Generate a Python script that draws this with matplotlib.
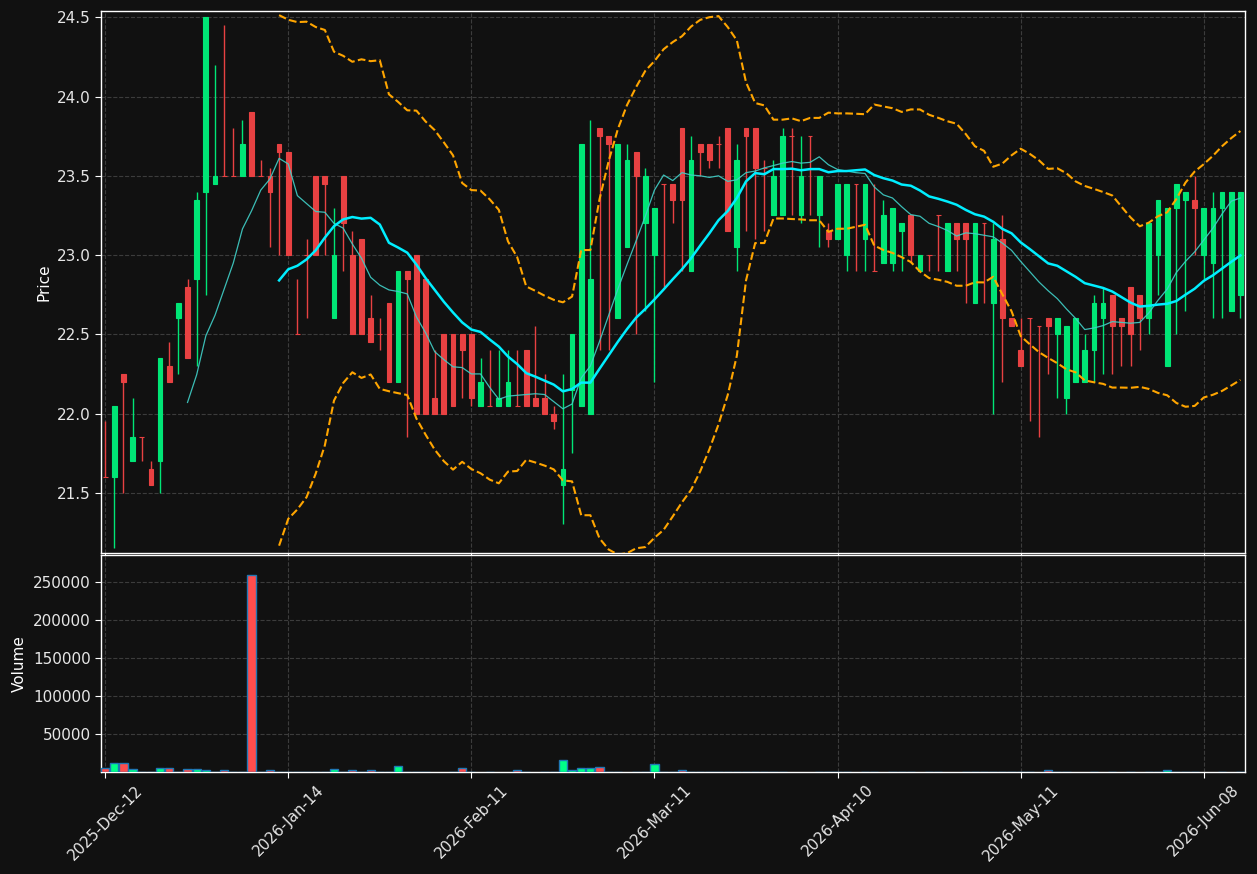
import numpy as np
import pandas as pd
import matplotlib
matplotlib.use("Agg")
import matplotlib.pyplot as plt

opens = [21.60, 21.60, 22.25, 21.70, 21.85, 21.65, 21.70, 22.30, 22.60, 22.80,
         22.85, 23.40, 23.45, 23.50, 23.50, 23.50, 23.90, 23.50, 23.50, 23.70,
         23.65, 22.50, 23.00, 23.50, 23.50, 22.60, 23.50, 23.00, 23.10, 22.60,
         22.50, 22.70, 22.20, 22.90, 23.00, 22.85, 22.10, 22.50, 22.50, 22.50,
         22.50, 22.05, 22.05, 22.05, 22.05, 22.05, 22.40, 22.10, 22.10, 22.00,
         21.55, 22.15, 22.05, 22.00, 23.80, 23.75, 22.60, 23.05, 23.65, 23.20,
         23.00, 23.45, 23.45, 23.80, 22.90, 23.70, 23.70, 23.70, 23.80, 23.05,
         23.80, 23.80, 23.55, 23.25, 23.25, 23.75, 23.25, 23.75, 23.25, 23.15,
         23.10, 23.00, 23.45, 23.10, 22.90, 22.95, 22.95, 23.15, 23.25, 22.90,
         23.00, 23.25, 22.90, 23.20, 23.20, 22.70, 23.20, 22.70, 23.10, 22.60,
         22.40, 22.60, 22.55, 22.60, 22.50, 22.10, 22.20, 22.20, 22.40, 22.60,
         22.75, 22.60, 22.80, 22.75, 22.60, 23.00, 22.30, 23.30, 23.35, 23.35,
         23.00, 22.95, 23.30, 22.65, 22.75]
highs = [21.95, 22.05, 22.25, 22.10, 21.85, 21.70, 22.35, 22.45, 22.70, 22.85,
         23.40, 24.50, 24.20, 24.45, 23.80, 23.85, 23.90, 23.60, 23.55, 23.70,
         23.65, 22.85, 23.10, 23.50, 23.50, 23.30, 23.50, 23.15, 23.10, 22.75,
         22.60, 22.70, 22.90, 22.90, 23.00, 22.85, 22.40, 22.50, 22.50, 22.50,
         22.50, 22.35, 22.40, 22.40, 22.40, 22.40, 22.40, 22.55, 22.25, 22.05,
         22.25, 22.50, 23.70, 23.85, 23.80, 23.75, 23.70, 23.70, 23.65, 23.55,
         23.30, 23.45, 23.45, 23.80, 23.75, 23.70, 23.70, 23.75, 23.80, 23.70,
         23.80, 23.80, 23.60, 23.60, 23.80, 23.80, 23.75, 23.75, 23.50, 23.20,
         23.45, 23.45, 23.45, 23.45, 23.45, 23.35, 23.30, 23.20, 23.25, 23.00,
         23.00, 23.25, 23.20, 23.20, 23.20, 23.20, 23.20, 23.20, 23.25, 22.60,
         22.60, 22.60, 22.55, 22.60, 22.60, 22.55, 22.60, 22.50, 22.75, 22.80,
         22.75, 22.60, 22.80, 22.75, 23.20, 23.35, 23.30, 23.45, 23.40, 23.50,
         23.30, 23.40, 23.40, 23.40, 23.40]
lows = [21.60, 21.15, 21.50, 21.70, 21.70, 21.55, 21.50, 22.20, 22.25, 22.35,
        22.30, 22.75, 23.45, 23.50, 23.50, 23.50, 23.50, 23.50, 23.05, 23.00,
        23.00, 22.50, 22.60, 23.00, 23.00, 22.60, 22.90, 22.50, 22.50, 22.45,
        22.40, 22.20, 22.20, 21.85, 22.00, 22.00, 22.00, 22.00, 22.05, 22.10,
        22.05, 22.05, 22.05, 22.05, 22.05, 22.05, 22.05, 22.05, 22.00, 21.90,
        21.30, 21.75, 22.05, 22.00, 22.40, 22.40, 22.60, 23.05, 22.50, 22.65,
        22.20, 22.80, 23.20, 22.90, 22.90, 23.50, 23.55, 23.55, 23.15, 22.90,
        23.15, 23.10, 23.15, 23.25, 23.25, 23.25, 23.20, 23.25, 23.05, 23.05,
        23.10, 22.90, 22.90, 22.90, 22.90, 22.95, 22.90, 22.90, 22.95, 22.90,
        22.90, 22.90, 22.90, 22.90, 22.70, 22.70, 22.70, 22.00, 22.20, 22.55,
        22.30, 21.95, 21.85, 22.25, 22.10, 22.00, 22.20, 22.20, 22.20, 22.25,
        22.25, 22.30, 22.30, 22.40, 22.50, 22.75, 22.30, 22.50, 22.65, 23.00,
        22.85, 22.60, 22.60, 22.65, 22.60]
closes = [21.60, 22.05, 22.20, 21.85, 21.85, 21.55, 22.35, 22.20, 22.70, 22.35,
          23.35, 24.50, 23.50, 23.50, 23.50, 23.70, 23.50, 23.50, 23.40, 23.65,
          23.00, 22.50, 23.00, 23.00, 23.45, 23.00, 23.20, 22.50, 22.50, 22.45,
          22.50, 22.20, 22.90, 22.85, 22.00, 22.00, 22.00, 22.00, 22.05, 22.40,
          22.10, 22.20, 22.05, 22.10, 22.20, 22.05, 22.05, 22.05, 22.00, 21.95,
          21.65, 22.50, 23.70, 22.85, 23.75, 23.70, 23.70, 23.60, 23.50, 23.50,
          23.30, 23.45, 23.35, 23.35, 23.60, 23.65, 23.60, 23.70, 23.15, 23.60,
          23.75, 23.55, 23.55, 23.50, 23.75, 23.75, 23.50, 23.75, 23.50, 23.10,
          23.45, 23.45, 23.45, 23.45, 22.90, 23.25, 23.30, 23.20, 23.00, 23.00,
          23.00, 23.25, 23.20, 23.10, 23.10, 23.20, 23.20, 23.10, 22.60, 22.55,
          22.30, 22.60, 22.55, 22.55, 22.60, 22.55, 22.60, 22.40, 22.70, 22.70,
          22.55, 22.55, 22.50, 22.60, 23.20, 23.35, 23.30, 23.45, 23.40, 23.30,
          23.30, 23.30, 23.40, 23.40, 23.40]
N = np.nan
volumes = [4800, 11500, 11500, 3500, 300, 300, 4800, 4800, 300, 3500,
           3500, 2200, 300, 2200, 300, 300, 260000, 300, 2200, 300,
           300, 300, 300, 300, 300, 3500, 300, 2200, 300, 2200,
           300, 300, 7500, 300, 300, 300, N, N, 300, 4800,
           300, N, 300, N, N, 2200, 300, N, 300, 300,
           15400, 2200, 4800, 4800, 6200, 300, 300, N, 300, 300,
           10100, 300, 300, 2600, 300, 300, 300, 300, 300, 300,
           300, 300, 300, 300, 300, N, N, N, 300, 300,
           300, 300, N, 300, 300, N, 300, 300, 300, N,
           300, 300, N, N, 300, 300, 300, 300, 300, 300,
           300, 300, N, 2600, 300, 300, N, N, 300, N,
           300, N, 300, N, 300, 300, 2600, 300, 300, 300,
           N, N, 300, N, 300]

holidays = ["2025-12-25", "2025-12-26", "2026-01-01", "2026-04-03", "2026-04-06", "2026-05-01"]
dates = pd.bdate_range("2025-12-12", periods=len(closes), freq="C", holidays=holidays)

BG = "#111111"
UP = "#00e676"
DOWN = "#e84142"
VUP = "#00ff88"
VDOWN = "#ff4d4d"
GRID = "#3c3c3c"
TXT = "#e6e6e6"

o = np.array(opens); h = np.array(highs); l = np.array(lows); c = np.array(closes)
v = np.array(volumes, dtype=float)
x = np.arange(len(c))
up = c > o

cs = pd.Series(c)
ma10 = cs.rolling(10).mean()
ma20 = cs.rolling(20).mean()
sd20 = cs.rolling(20).std(ddof=0)
upper = ma20 + 2 * sd20
lower = ma20 - 2 * sd20

fig = plt.figure(figsize=(12.57, 8.74), dpi=100, facecolor=BG)
W, H = 1257, 874
ax = fig.add_axes([101 / W, 1 - 553 / H, (1245 - 101) / W, (553 - 11) / H])
axv = fig.add_axes([101 / W, 1 - 772 / H, (1245 - 101) / W, (772 - 555) / H], sharex=ax)

for a in (ax, axv):
    a.set_facecolor(BG)
    for s in a.spines.values():
        s.set_color("white")
        s.set_linewidth(1.0)
    a.tick_params(colors="white", labelcolor=TXT, labelsize=11, length=4)
    a.grid(True, color=GRID, linestyle="--", linewidth=0.8)
    a.set_axisbelow(True)

# wicks
ax.vlines(x, l, h, colors=np.where(up, UP, DOWN), linewidth=1.0, zorder=2)
# bodies
bw = 0.52
cols = np.where(up, UP, DOWN)
ax.bar(x, np.abs(c - o), bottom=np.minimum(o, c), width=bw, color=cols,
       edgecolor=cols, linewidth=0.8, zorder=3)

ax.plot(x, ma10, color="#40d0c8", linewidth=0.9, alpha=0.9, zorder=4)
ax.plot(x, ma20, color="#00eeff", linewidth=1.8, zorder=5)
ax.plot(x, upper, color="orange", linestyle="--", linewidth=1.5, zorder=4)
ax.plot(x, lower, color="orange", linestyle="--", linewidth=1.5, zorder=4)

ax.set_ylim(21.12, 24.54)
ax.set_yticks([21.5, 22.0, 22.5, 23.0, 23.5, 24.0, 24.5])
ax.set_ylabel("Price", color="white", fontsize=11)
ax.set_xlim(-0.45, len(c) - 0.5)
plt.setp(ax.get_xticklabels(), visible=False)

mask = ~np.isnan(v)
vcols = np.where(up, VUP, VDOWN)
axv.bar(x[mask], v[mask], width=0.9, color=vcols[mask], edgecolor="#1f77b4",
        linewidth=1.0, zorder=3)
axv.set_ylim(0, 286000)
axv.set_yticks([50000, 100000, 150000, 200000, 250000])
axv.set_ylabel("Volume", color="white", fontsize=11)

tick_pos = x[::20]
tick_labels = [dates[i].strftime("%Y-%b-%d") for i in tick_pos]
axv.set_xticks(tick_pos)
axv.set_xticklabels(tick_labels, rotation=45, ha="center")

fig.savefig("out.png", dpi=100, facecolor=BG)
